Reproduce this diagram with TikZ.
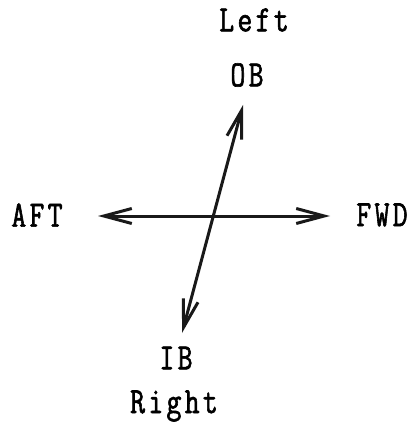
\documentclass[tikz,border=0pt]{standalone}
\usepackage{fontspec}
\usetikzlibrary{arrows.meta}
\newfontfamily\typefont[FakeBold=1.6, FakeStretch=0.78, LetterSpace=9]{Latin Modern Mono}

\begin{document}
\begin{tikzpicture}[x=1pt, y=-1pt,
    lbl/.style={font=\typefont\fontsize{37}{39}\selectfont, inner sep=0pt},
    axis/.style={{Straight Barb[length=28pt, width=15pt]}-{Straight Barb[length=28pt, width=15pt]},
                 line width=3pt, black!90}]
    \useasboundingbox (0,0) rectangle (412,427);
    % direction labels
    \node[lbl] (lft) at (254,20) {Left};
    \node[lbl] (ob)  at (247,75) {OB};
    \node[lbl] (aft) at (37,215) {AFT};
    \node[lbl] (fwd) at (382,215) {FWD};
    \node[lbl] (ib)  at (176,358) {IB};
    \node[lbl] (rgt) at (174,406) {Right};
    % arrow ends
    \coordinate (aftend) at (98,216);
    \coordinate (fwdend) at (330,216);
    \coordinate (obend)  at (243,105);
    \coordinate (ibend)  at (182,333);
    \draw[axis] (aftend) -- (fwdend);
    \draw[axis] (ibend) -- (obend);
\end{tikzpicture}
\end{document}
